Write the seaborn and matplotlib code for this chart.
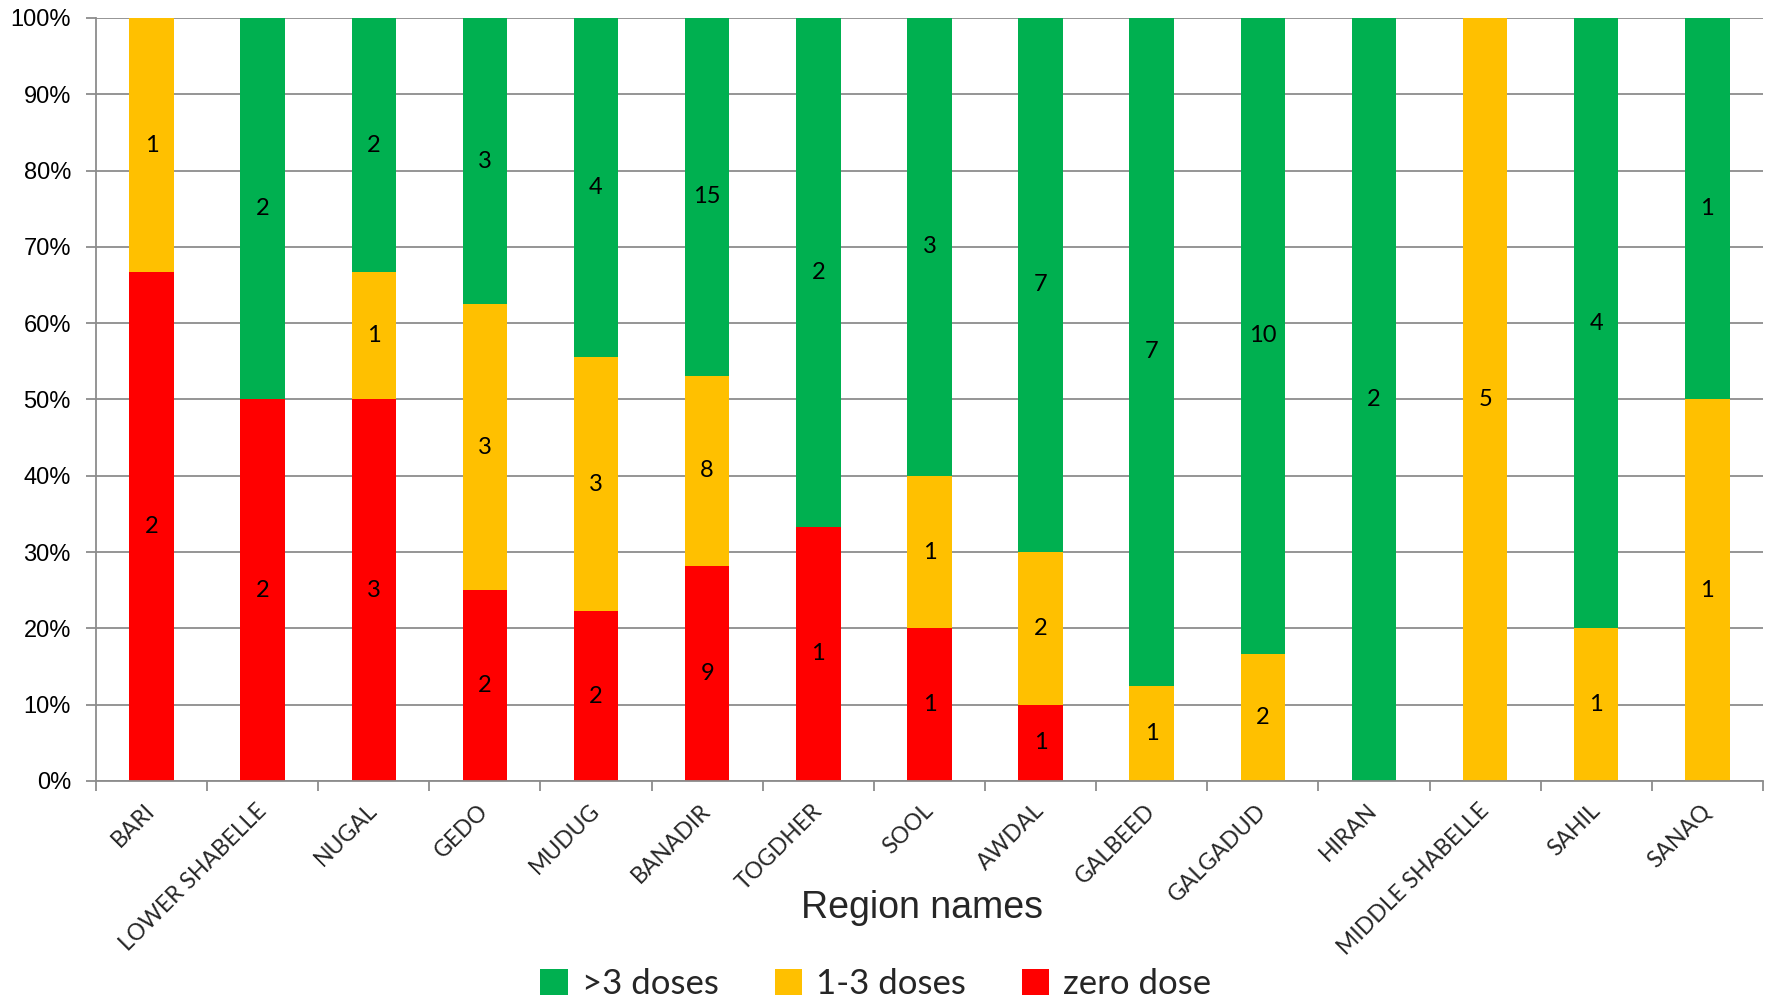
import numpy as np
import pandas as pd
import matplotlib
matplotlib.use("Agg")
import matplotlib.pyplot as plt
import seaborn as sns
from matplotlib.ticker import PercentFormatter, FixedLocator
from matplotlib.patches import Patch

regions = ["BARI", "LOWER SHABELLE", "NUGAL", "GEDO", "MUDUG", "BANADIR", "TOGDHER",
           "SOOL", "AWDAL", "GALBEED", "GALGADUD", "HIRAN", "MIDDLE SHABELLE", "SAHIL", "SANAQ"]
zero_dose = [2, 2, 3, 2, 2, 9, 1, 1, 1, 0, 0, 0, 0, 0, 0]
one_to_three = [1, 0, 1, 3, 3, 8, 0, 1, 2, 1, 2, 0, 5, 1, 1]
over_three = [0, 2, 2, 3, 4, 15, 2, 3, 7, 7, 10, 2, 0, 4, 1]

series_names = ["zero dose", "1-3 doses", ">3 doses"]
series_colors = ["#FF0000", "#FFC000", "#00B050"]

sns.set_theme(style="white")
plt.rcParams["font.family"] = ["Lato", "DejaVu Sans"]

counts = np.array([zero_dose, one_to_three, over_three], dtype=float)
totals = counts.sum(axis=0)
shares = counts / totals

fig = plt.figure(figsize=(17.67, 10.02), dpi=100)
ax = fig.add_axes([0.0543, 0.2206, 0.9434, 0.7615])

grid_col = "#8C8C8C"
ax.set_axisbelow(True)
ax.yaxis.grid(True, color=grid_col, linewidth=1.3)

bottom = np.zeros(len(regions))
for name, col, share, cnt in zip(series_names, series_colors, shares, counts):
    df = pd.DataFrame({"region": regions, "share": share})
    sns.barplot(data=df, x="region", y="share", order=regions, color=col,
                width=0.4, bottom=bottom, errorbar=None, ax=ax,
                saturation=1, edgecolor="none", linewidth=0)
    for i, (s, c) in enumerate(zip(share, cnt)):
        if c > 0:
            ax.text(i, bottom[i] + s / 2, f"{int(c)}", ha="center", va="center",
                    fontsize=17, color="black")
    bottom = bottom + share

ax.set_xlim(-0.5, len(regions) - 0.5)
ax.set_ylim(0, 1)
ax.yaxis.set_major_locator(FixedLocator(np.linspace(0, 1, 11)))
ax.yaxis.set_major_formatter(PercentFormatter(1.0, decimals=0))
for lab in ax.get_yticklabels():
    lab.set_family(["Liberation Sans", "DejaVu Sans"])
ax.tick_params(axis="y", labelsize=17, length=7, width=1.3, color=grid_col,
               left=True, pad=11, labelcolor="black")

ax.set_xticks(range(len(regions)))
ax.set_xticklabels(regions, rotation=45, ha="right", va="center", rotation_mode="anchor")
ax.tick_params(axis="x", which="major", length=0, labelsize=16.5, pad=19)
ax.set_xticks(np.arange(-0.5, len(regions)), minor=True)
ax.tick_params(axis="x", which="minor", length=7, width=1.3, color=grid_col, bottom=True)

for side in ["top", "right"]:
    ax.spines[side].set_visible(False)
for side in ["left", "bottom"]:
    ax.spines[side].set_color(grid_col)
    ax.spines[side].set_linewidth(1.3)

ax.set_ylabel("")
ax.set_xlabel("Region names", fontsize=27, family=["Liberation Sans", "DejaVu Sans"])
ax.xaxis.label.set_va("center")
ax.xaxis.set_label_coords(0.4955, -0.1665)

handles = [Patch(facecolor=c, edgecolor="none") for c in series_colors[::-1]]
fig.legend(handles, series_names[::-1], loc="center", bbox_to_anchor=(0.4957, 0.018),
           ncol=3, frameon=False, fontsize=25, handlelength=0.8, handleheight=0.8,
           handletextpad=0.4, columnspacing=1.6)

fig.savefig("out.png", dpi=100)
